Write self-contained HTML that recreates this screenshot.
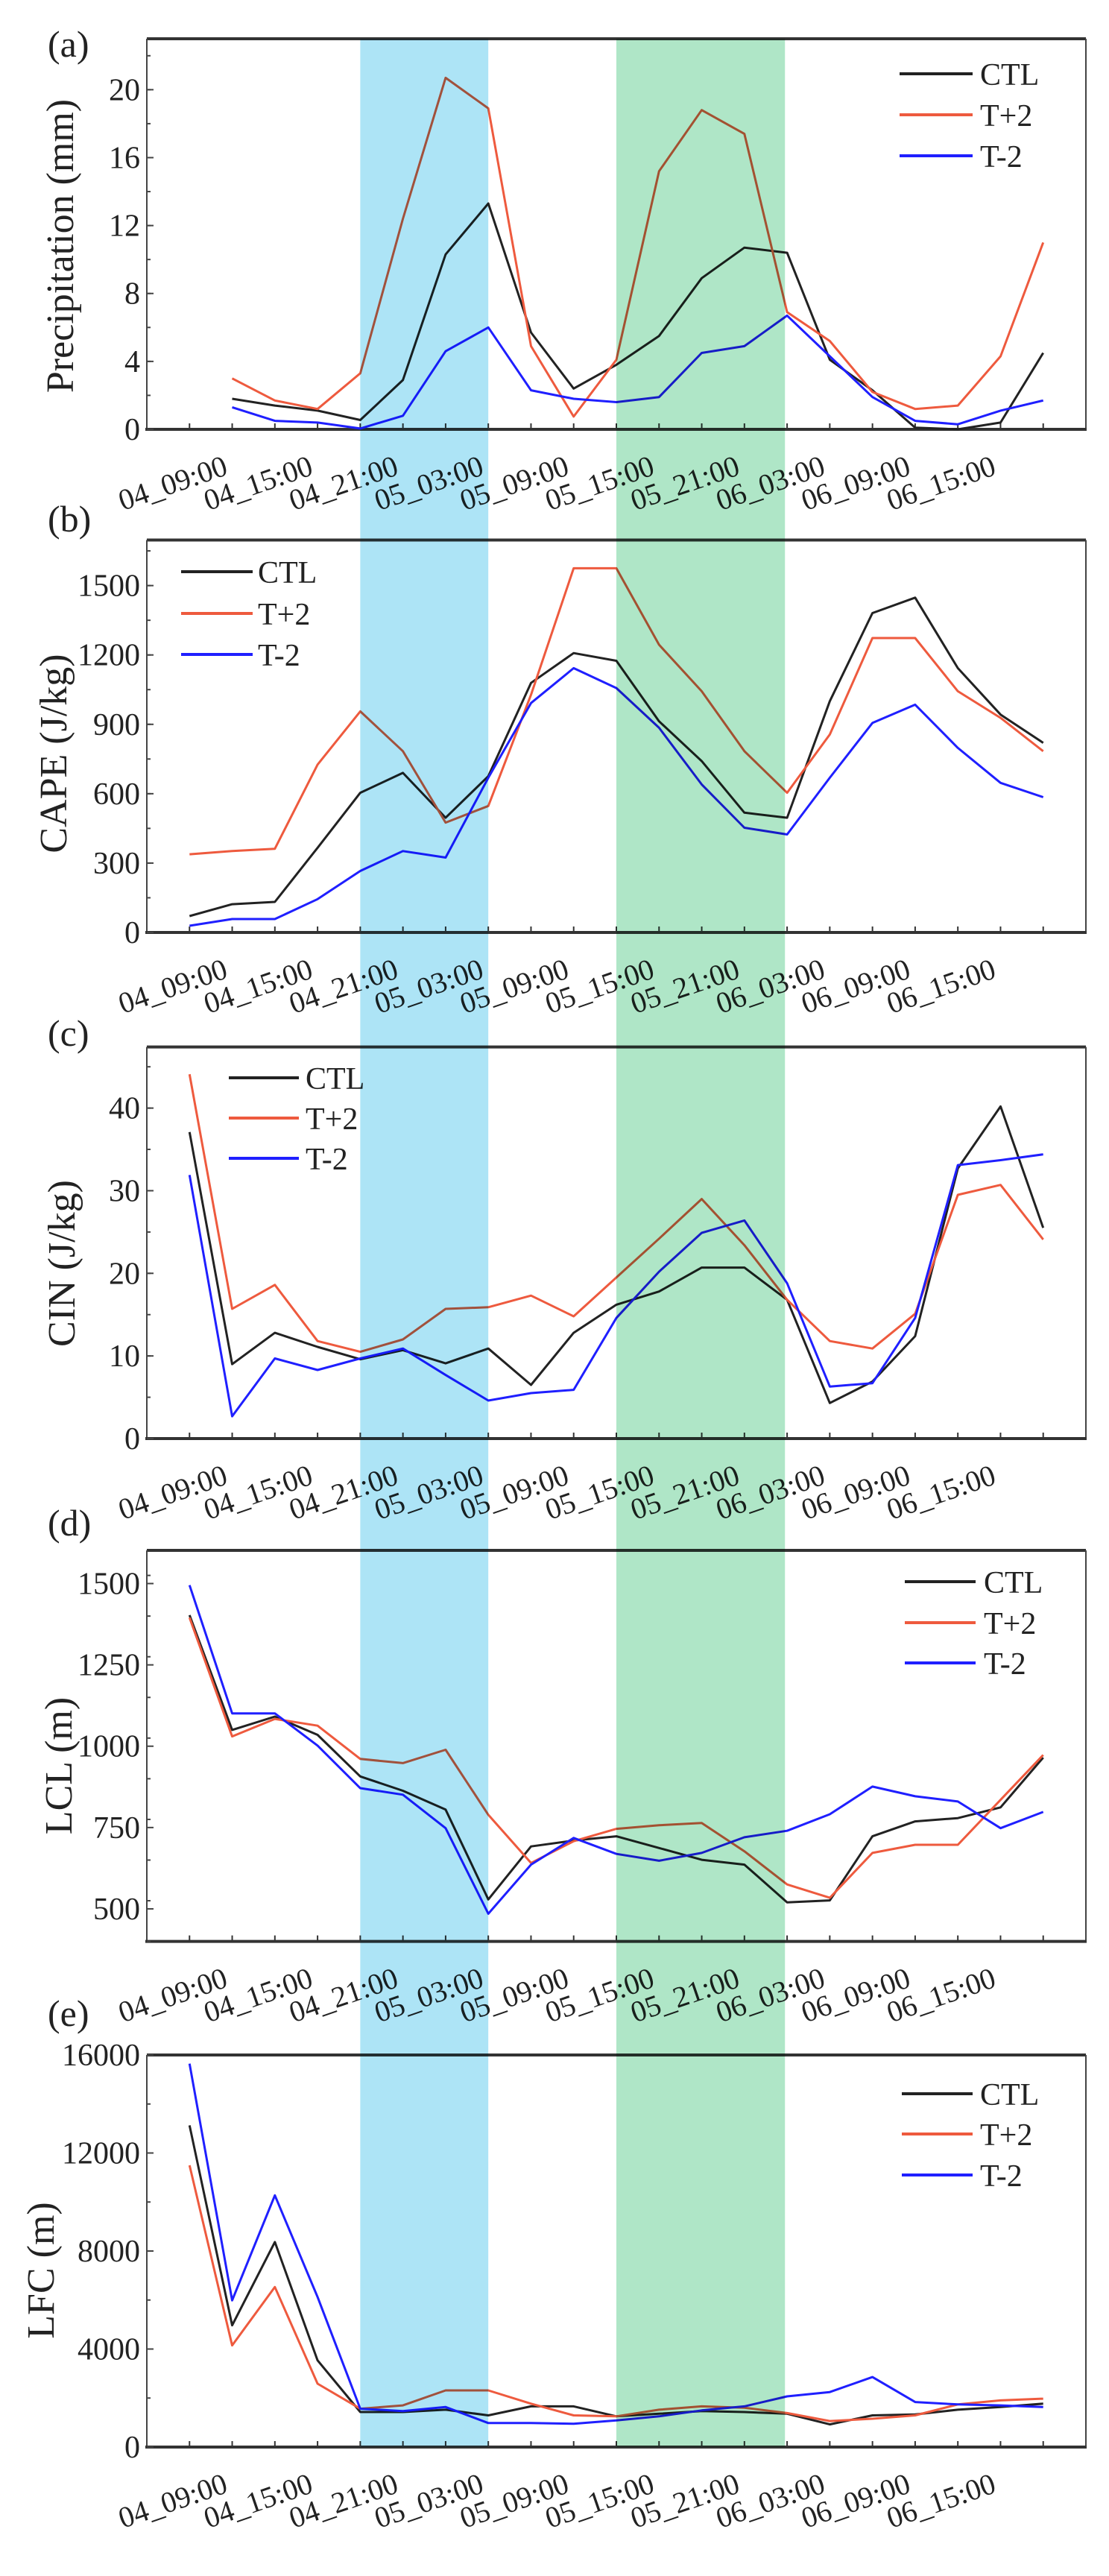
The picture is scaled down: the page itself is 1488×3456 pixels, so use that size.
<!DOCTYPE html>
<html><head><meta charset="utf-8"><style>
html,body{margin:0;padding:0;background:#fff;}
svg{display:block;}
text{font-family:"Liberation Serif",serif;fill:#222;}
</style></head>
<body>
<svg id="fig" width="1488" height="3456" viewBox="0 0 1488 3456" xmlns="http://www.w3.org/2000/svg"></svg>
<script>
const timeLabels = ["04_09:00","04_15:00","04_21:00","05_03:00","05_09:00","05_15:00","05_21:00","06_03:00","06_09:00","06_15:00"];
const seriesNames = ["CTL","T+2","T-2"];
const seriesColors = ["#222222","#ee5a3e","#1f1fff"];

const precipCTL = [1.8,1.4,1.1,0.55,2.9,10.3,13.3,5.7,2.4,3.8,5.5,8.9,10.7,10.4,4.1,2.3,0.1,0,0.4,4.5];
const precipTp2 = [3.0,1.7,1.2,3.3,12.4,20.7,18.9,4.9,0.75,4.1,15.2,18.8,17.4,6.9,5.2,2.2,1.2,1.4,4.3,11.0];
const precipTm2 = [1.3,0.5,0.4,0.05,0.8,4.6,6.0,2.3,1.8,1.6,1.9,4.5,4.9,6.7,4.3,1.9,0.5,0.3,1.1,1.7];

const capeCTL = [71,122,132,366,604,690,496,676,1079,1208,1175,913,741,518,496,1000,1381,1448,1143,942,820];
const capeTp2 = [338,352,362,726,956,784,475,547,1028,1575,1575,1244,1043,784,604,856,1273,1273,1043,928,784];
const capeTm2 = [29,58,58,144,266,352,324,669,992,1143,1057,885,640,453,424,669,906,985,798,647,585];

const cinCTL = [37.1,9.0,12.8,11.1,9.6,10.7,9.1,10.9,6.5,12.8,16.2,17.8,20.7,20.7,16.8,4.3,6.9,12.4,32.7,40.2,25.5];
const cinTp2 = [44.1,15.7,18.6,11.8,10.5,12.0,15.7,15.9,17.3,14.8,19.5,24.2,29.0,23.4,16.8,11.8,10.9,15.1,29.5,30.7,24.1];
const cinTm2 = [31.9,2.7,9.7,8.3,9.7,10.9,7.7,4.6,5.5,5.9,14.6,20.2,24.9,26.4,18.8,6.3,6.7,14.6,33.1,33.7,34.4];

const lclCTL = [1403,1050,1091,1035,907,863,805,529,692,710,723,687,651,636,520,526,723,769,779,812,965];
const lclTp2 = [1395,1030,1084,1063,961,948,989,789,641,708,746,757,764,677,575,534,672,697,697,835,973];
const lclTm2 = [1495,1101,1101,1002,871,851,748,485,636,718,669,648,672,720,740,791,876,846,830,748,798];

const lfcCTL = [13129,4966,8367,3537,1429,1429,1524,1293,1660,1660,1252,1361,1469,1429,1361,925,1293,1333,1524,1633,1769];
const lfcTp2 = [11497,4150,6531,2585,1565,1701,2313,2313,1769,1293,1252,1524,1660,1605,1388,1061,1156,1293,1741,1905,1973];
const lfcTm2 = [15646,5986,10272,6122,1565,1469,1633,980,980,952,1088,1252,1497,1660,2068,2245,2857,1837,1741,1701,1633];

const precipTicks = [0,4,8,12,16,20];
const capeTicks = [0,300,600,900,1200,1500];
const cinTicks = [0,10,20,30,40];
const lclTicks = [500,750,1000,1250,1500];
const lfcTicks = [0,4000,8000,12000,16000];

const blueBand = [3,6];
const greenBand = [9,12.95];

const NS="http://www.w3.org/2000/svg";
const svg=document.getElementById('fig');
function el(tag,attrs,parent){const e=document.createElementNS(NS,tag);for(const k in attrs)e.setAttribute(k,attrs[k]);(parent||svg).appendChild(e);return e;}

const X0=197, X1=1457, IMIN=-2, IMAX=20;
function xScale(i){return X0+(i-IMIN)*(X1-X0)/(IMAX-IMIN);}

const panels=[
 {key:"a",label:"(a)",labelY:76,top:52,axis:576,ymin:0,ymax:23,ticks:precipTicks,minor:2,title:"Precipitation (mm)",tx:81,ty:330,start:0,series:[precipCTL,precipTp2,precipTm2],leg:{x1:1207,x2:1305,tx:1315,ys:[99,154,209]}},
 {key:"b",label:"(b)",labelY:713,top:724.5,axis:1251,ymin:0,ymax:1697,ticks:capeTicks,minor:150,title:"CAPE (J/kg)",tx:72,ty:1011,start:-1,series:[capeCTL,capeTp2,capeTm2],leg:{x1:243,x2:339,tx:346,ys:[767,823,878]}},
 {key:"c",label:"(c)",labelY:1403,top:1404.6,axis:1930,ymin:0,ymax:47.4,ticks:cinTicks,minor:5,title:"CIN (J/kg)",tx:83,ty:1695,start:-1,series:[cinCTL,cinTp2,cinTm2],leg:{x1:307,x2:401,tx:410,ys:[1446,1500,1554]}},
 {key:"d",label:"(d)",labelY:2060,top:2080,axis:2604.6,ymin:400,ymax:1602,ticks:lclTicks,minor:125,title:"LCL (m)",tx:79,ty:2369,start:-1,series:[lclCTL,lclTp2,lclTm2],leg:{x1:1214,x2:1309,tx:1320,ys:[2122,2177,2231]}},
 {key:"e",label:"(e)",labelY:2718,top:2757,axis:3283,ymin:0,ymax:16000,ticks:lfcTicks,minor:2000,title:"LFC (m)",tx:55,ty:3046,start:-1,series:[lfcCTL,lfcTp2,lfcTm2],leg:{x1:1210,x2:1305,tx:1315,ys:[2809,2863,2918]}}
];

panels.forEach(p=>{
  const g=el('g',{});
  
  
  const y=v=>p.axis-(v-p.ymin)*(p.axis-p.top)/(p.ymax-p.ymin);
  const fr=el('g',{},g);
  
  
  el('line',{x1:X0,y1:p.top,x2:X1,y2:p.top,stroke:'#333',"stroke-width":4},fr);
  el('line',{x1:X0,y1:p.top,x2:X0,y2:p.axis,stroke:'#444',"stroke-width":2},fr);
  el('line',{x1:X1,y1:p.top,x2:X1,y2:p.axis,stroke:'#444',"stroke-width":2},fr);
  const xa=el('line',{x1:X0-2,y1:p.axis,x2:X1+1,y2:p.axis,stroke:'#333',"stroke-width":4},fr);
  
  
  for(let i=-1;i<=19;i++){
    el('line',{x1:xScale(i),y1:p.axis,x2:xScale(i),y2:p.axis-8,stroke:'#333',"stroke-width":2},g);
  }
  timeLabels.forEach((t,k)=>{
    const xi=xScale(k*2);
    const tl=el('text',{x:0,y:0,"font-size":40,"text-anchor":"end",transform:`translate(${xi-4},${p.axis+60}) rotate(-19)`},g);
    
    
    tl.textContent=t;
  });
  for(let v=p.ymin;v<=p.ymax;v+=p.minor){
    const yy=y(v); if(yy<p.top+2) continue;
    el('line',{x1:X0,y1:yy,x2:X0+5,y2:yy,stroke:'#444',"stroke-width":2},g);
  }
  p.ticks.forEach(v=>{
    const yy=y(v);
    el('line',{x1:X0,y1:yy,x2:X0+9,y2:yy,stroke:'#444',"stroke-width":2},g);
    const tl=el('text',{x:188,y:yy+14,"font-size":42,"text-anchor":"end"},g);
    
    
    tl.textContent=v;
  });
  const yt=el('text',{x:0,y:0,"font-size":52,"text-anchor":"middle",transform:`translate(${p.tx+17},${p.ty}) rotate(-90)`},g);
  
  
  yt.textContent=p.title;
  const pl=el('text',{x:64,y:p.labelY,"font-size":50},g);
  
  
  pl.textContent=p.label;
  p.series.forEach((arr,s)=>{
    const pts=arr.map((v,i)=>xScale(p.start+i).toFixed(1)+','+y(v).toFixed(1)).join(' ');
    const ln=el('polyline',{points:pts,fill:'none',stroke:seriesColors[s],"stroke-width":3,"stroke-linejoin":"round"},g);
    
    
  });
  const lg=el('g',{},g);
  
  
  seriesNames.forEach((n,s)=>{
    const yy=p.leg.ys[s];
    const en=el('g',{},lg);
    
    
    el('line',{x1:p.leg.x1,y1:yy,x2:p.leg.x2,y2:yy,stroke:seriesColors[s],"stroke-width":4},en);
    const tx=el('text',{x:p.leg.tx,y:yy+15,"font-size":42},en);
    tx.textContent=n;
  });
});

const bTop=52, bBot=3283;
[[blueBand,'#ade4f6','blue-band'],[greenBand,'#afe6c7','green-band']].forEach(([b,c,n])=>{
  const r=el('rect',{x:xScale(b[0]),y:bTop,width:xScale(b[1])-xScale(b[0]),height:bBot-bTop,fill:c,style:'mix-blend-mode:multiply'});
  
  
});
</script>
</body></html>
